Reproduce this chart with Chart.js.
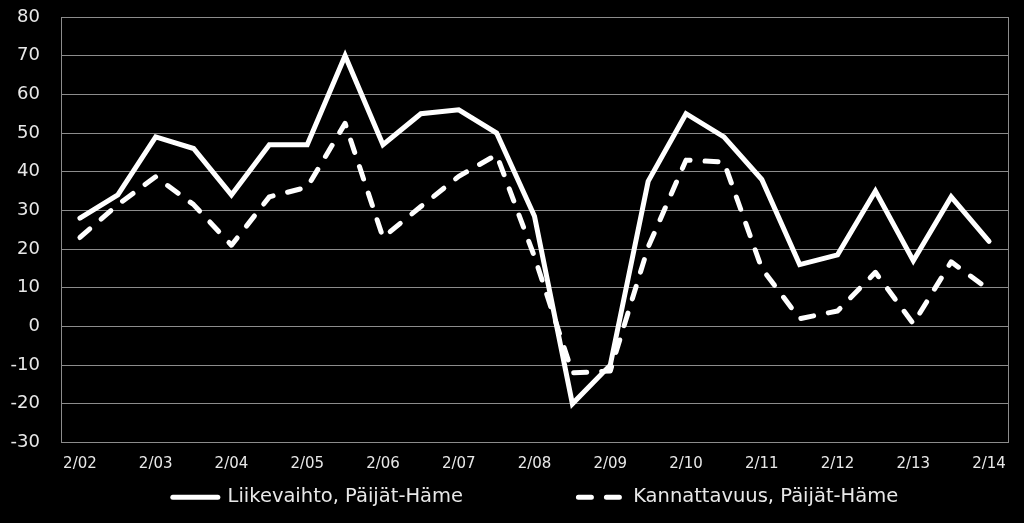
<!DOCTYPE html>
<html>
<head>
<meta charset="utf-8">
<script src="https://cdn.jsdelivr.net/npm/chart.js@4"></script>
<style>
  html, body { margin: 0; padding: 0; background: #000; }
  #wrap { width: 1024px; height: 523px; }
</style>
</head>
<body>
<div id="wrap"><canvas id="chart" width="1024" height="523"></canvas></div>
<script>
// half-year points, label only on every other one
const labels = ["2/02", "", "2/03", "", "2/04", "", "2/05", "", "2/06", "", "2/07", "", "2/08", "",
  "2/09", "", "2/10", "", "2/11", "", "2/12", "", "2/13", "", "2/14"];

const liikevaihto = [28, 34, 49, 46, 34, 47, 47, 70, 47, 55, 56, 50, 28.5, -20, -10, 37.5, 55, 49, 38, 16, 18.5, 35, 17, 33.5, 22];
const kannattavuus = [23, 31.5, 38.7, 31.5, 21, 33.5, 36, 52.5, 23, 31, 38.8, 44.4, 18, -12, -11.5, 20.5, 43, 42.5, 15, 2, 4, 14, 0.7, 16.7, 9.5];

const seriesNames = ["Liikevaihto, Päijät-Häme", "Kannattavuus, Päijät-Häme"];

const yMin = -30, yMax = 80, yStep = 10;

const txt = "#e8e8e8";
const gridCol = "#8c8c8c";

new Chart(document.getElementById("chart"), {
  type: 'line',
  data: {
    labels,
    datasets: [
      {
        label: seriesNames[0],
        data: liikevaihto,
        borderColor: "#ffffff",
        borderWidth: 5,
        borderCapStyle: 'round',
        borderJoinStyle: 'miter',
        pointRadius: 0,
        tension: 0,
        fill: false
      },
      {
        label: seriesNames[1],
        data: kannattavuus,
        borderColor: "#ffffff",
        borderWidth: 5,
        borderDash: [13, 15],
        borderCapStyle: 'round',
        borderJoinStyle: 'round',
        pointRadius: 0,
        tension: 0,
        fill: false
      }
    ]
  },
  options: {
    responsive: false,
    animation: false,
    // negative right padding only widens the legend box so it sits a bit right of centre
    layout: { padding: { top: 17, left: 0, right: -47, bottom: 6 } },
    plugins: {
      tooltip: { enabled: false },
      legend: {
        position: 'bottom',
        labels: {
          usePointStyle: true,
          pointStyle: 'line',
          pointStyleWidth: 45,
          padding: 10,
          color: txt,
          font: { family: "'DejaVu Sans'", size: 19.5 },
          generateLabels: (chart) => chart.data.datasets.map((ds, i) => ({
            text: i === 0 ? ds.label + " ".repeat(17) : ds.label,
            fillStyle: "#ffffff",
            strokeStyle: "#ffffff",
            fontColor: txt,
            lineWidth: 5,
            lineCap: 'round',
            lineDash: ds.borderDash || [],
            pointStyle: 'line',
            hidden: false,
            datasetIndex: i
          }))
        }
      }
    },
    scales: {
      x: {
        offset: true,
        grid: { display: false, drawTicks: false },
        border: { display: true, color: gridCol, width: 1 },
        ticks: {
          autoSkip: false,
          maxRotation: 0,
          padding: 13,
          color: txt,
          font: { family: "'DejaVu Sans'", size: 15 }
        },
        afterFit: (s) => { s.height = 35; }
      },
      y: {
        min: yMin,
        max: yMax,
        grid: { color: gridCol, lineWidth: 1, drawTicks: false },
        border: { display: true, color: gridCol, width: 1 },
        ticks: {
          stepSize: yStep,
          padding: 21,
          color: txt,
          font: { family: "'DejaVu Sans'", size: 18 }
        },
        afterFit: (s) => { s.width = 61; s.paddingTop = 11; s.paddingBottom = 11; }
      },
      yRight: {
        position: 'right',
        min: yMin,
        max: yMax,
        grid: { display: false, drawTicks: false },
        border: { display: true, color: gridCol, width: 1 },
        ticks: { display: false },
        afterFit: (s) => { s.width = 63; }
      }
    }
  }
});
</script>
</body>
</html>
